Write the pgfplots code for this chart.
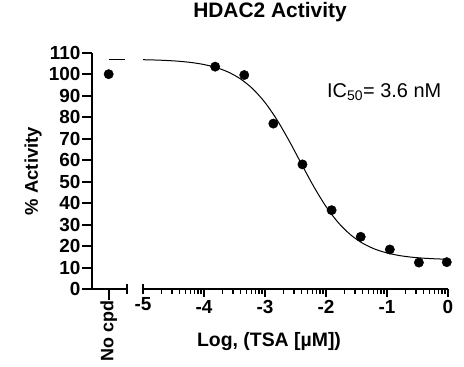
\documentclass[border=0pt]{standalone}
\usepackage{pgfplots}
\pgfplotsset{compat=1.18}
\usepackage{fontspec}
\setmainfont{Liberation Sans}
\begin{document}
\begin{tikzpicture}[x=1bp,y=1bp]
\useasboundingbox (-92,-77) rectangle (372,289);
\pgfplotsset{
  every axis/.append style={
    scale only axis, height=236.3bp, ymin=0, ymax=110, clip=false,
    axis line style={line width=2bp, -},
    every tick/.style={line width=2bp, black},
    every minor tick/.style={line width=1.5bp, black},
    tick align=outside,
    major tick length=8bp, minor tick length=4.5bp,
    tick label style={font=\fontsize{19}{21}\selectfont\bfseries},
    /pgf/number format/assume math mode=true,
  }
}
% No cpd segment
\begin{axis}[at={(0,0)}, anchor=south west, width=35bp,
  xmin=-1, xmax=1.1,
  axis x line*=bottom, axis y line*=left,
  ytick={0,10,20,30,40,50,60,70,80,90,100,110},
  yticklabels={0,10,20,30,40,50,60,70,80,90,100,110},
  y tick style={/pgfplots/major tick length=10bp},
  xtick={0}, xticklabels={No cpd},
  x tick style={/pgfplots/major tick length=11bp},
  x tick label style={rotate=90, anchor=east, font=\fontsize{18}{20}\selectfont\bfseries},
]
\addplot[only marks, mark=*, mark size=4.7bp, black] coordinates {(0,100)};
\addplot[line width=1bp, black] coordinates {(0,106.7) (1,106.7)};
\draw[line width=2bp] ([yshift=-5bp]axis cs:1.1,0) -- ([yshift=5bp]axis cs:1.1,0);
\end{axis}
% Dose-response segment
\begin{axis}[at={(51bp,0)}, anchor=south west, width=305bp,
  xmin=-5, xmax=0,
  axis x line*=bottom, axis y line=none,
  xtick={-4,-3,-2,-1,0}, xticklabels={-4,-3,-2,-1,0},
  extra x ticks={-5}, extra x tick labels={-5},
  extra x tick style={major tick length=5bp},
  minor xtick={-4.69897,-4.52288,-4.39794,-4.30103,-4.22185,-4.15490,-4.09691,-4.04576,
               -3.69897,-3.52288,-3.39794,-3.30103,-3.22185,-3.15490,-3.09691,-3.04576,
               -2.69897,-2.52288,-2.39794,-2.30103,-2.22185,-2.15490,-2.09691,-2.04576,
               -1.69897,-1.52288,-1.39794,-1.30103,-1.22185,-1.15490,-1.09691,-1.04576,
               -0.69897,-0.52288,-0.39794,-0.30103,-0.22185,-0.15490,-0.09691,-0.04576},
]
\addplot[line width=1bp, black, smooth] coordinates {
(-5.0,106.74) (-4.8,106.59) (-4.6,106.36) (-4.4,105.99) (-4.2,105.40)
(-4.0,104.49) (-3.8,103.09) (-3.6,100.95) (-3.4,97.76) (-3.2,93.16)
(-3.0,86.81) (-2.8,78.59) (-2.6,68.76) (-2.4,58.10) (-2.2,47.65)
(-2.0,38.41) (-1.8,30.93) (-1.6,25.31) (-1.4,21.31) (-1.2,18.59)
(-1.0,16.78) (-0.8,15.59) (-0.6,14.83) (-0.4,14.35) (-0.2,14.04) (0.0,13.84)};
\addplot[only marks, mark=*, mark size=4.7bp, black] coordinates {
(-3.817,103.5) (-3.340,99.6) (-2.863,77.0) (-2.386,58.0) (-1.908,36.7)
(-1.431,24.3) (-0.954,18.4) (-0.477,12.3) (-0.02,12.5)};
\draw[line width=2bp] ([yshift=-5bp]axis cs:-5,0) -- ([yshift=5bp]axis cs:-5,0);
\end{axis}
\node[font=\fontsize{21}{24}\selectfont\bfseries] at (178,277) {HDAC2 Activity};
\node[rotate=90, font=\fontsize{18.5}{20}\selectfont\bfseries] at (-59,118) {\% Activity};
\node[font=\fontsize{19.5}{22}\selectfont\bfseries] at (177,-53) {Log, (TSA [µM])};
\node[anchor=base west, inner sep=0, font=\fontsize{20}{22}\selectfont] at (235,192) {IC\textsubscript{50}= 3.6 nM};
\end{tikzpicture}
\end{document}
